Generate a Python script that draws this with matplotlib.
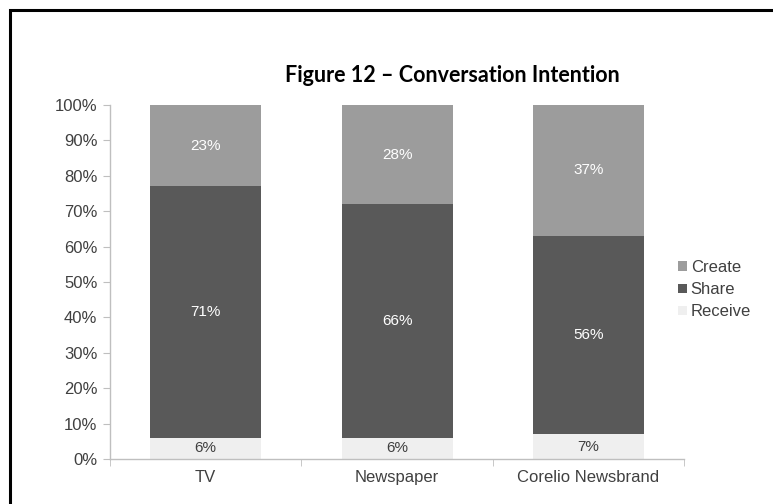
import numpy as np
import matplotlib.pyplot as plt
from matplotlib.patches import Rectangle

plt.rcParams['font.family'] = ['Liberation Sans', 'DejaVu Sans']

categories = ['TV', 'Newspaper', 'Corelio Newsbrand']
receive = [6, 6, 7]
share = [71, 66, 56]
create = [23, 28, 37]

col_create = '#9c9c9c'
col_share = '#595959'
col_receive = '#efefef'
grid_col = '#bfbfbf'
text_col = '#404040'

fig = plt.figure(figsize=(7.73, 5.04), dpi=100)
ax = fig.add_axes([0.1423, 0.0893, 0.7426, 0.7024])

x = np.arange(len(categories))
w = 0.58
b1 = ax.bar(x, receive, w, color=col_receive, label='Receive')
b2 = ax.bar(x, share, w, bottom=receive, color=col_share, label='Share')
bottom2 = [r + s for r, s in zip(receive, share)]
b3 = ax.bar(x, create, w, bottom=bottom2, color=col_create, label='Create')

# segment labels
for i in range(len(categories)):
    ax.text(x[i], receive[i] / 2, f'{receive[i]}%', ha='center', va='center', color=text_col, fontsize=11)
    ax.text(x[i], receive[i] + share[i] / 2, f'{share[i]}%', ha='center', va='center', color='white', fontsize=11)
    ax.text(x[i], bottom2[i] + create[i] / 2, f'{create[i]}%', ha='center', va='center', color='white', fontsize=11)

ax.set_xlim(-0.5, len(categories) - 0.5)
ax.set_ylim(0, 100)
ax.set_yticks(np.arange(0, 101, 10))
ax.set_yticklabels([f'{v}%' for v in range(0, 101, 10)])
ax.set_xticks(x)
ax.set_xticklabels(categories)
ax.set_xticks(np.arange(-0.5, len(categories)), minor=True)

for s in ['top', 'right']:
    ax.spines[s].set_visible(False)
for s in ['left', 'bottom']:
    ax.spines[s].set_color(grid_col)
    ax.spines[s].set_linewidth(1.0)

ax.tick_params(axis='y', length=5, color=grid_col, labelcolor=text_col, labelsize=12, pad=4)
ax.tick_params(axis='x', which='major', length=0, labelcolor=text_col, labelsize=12, pad=8)
ax.tick_params(axis='x', which='minor', length=5, color=grid_col)

leg = fig.legend(handles=[b3, b2, b1], labels=['Create', 'Share', 'Receive'],
                 loc='center left', bbox_to_anchor=(0.858, 0.425), frameon=False, fontsize=12,
                 handlelength=0.5, handleheight=0.5, handletextpad=0.25, labelspacing=0.43)
for t in leg.get_texts():
    t.set_color(text_col)

fig.text(452 / 773, 1 - 75 / 504, 'Figure 12 \u2013 Conversation Intention', ha='center', va='center',
         fontsize=15.5, fontweight='bold', family='Lato', color='black')

# chart frame: only left and top edges fall inside the picture
fig.patches.append(Rectangle((10 / 773, -0.1), 1.2, 1 - 10 / 504 + 0.1, transform=fig.transFigure,
                             fill=False, edgecolor='black', linewidth=2.2))

fig.savefig('out.png', dpi=100)
